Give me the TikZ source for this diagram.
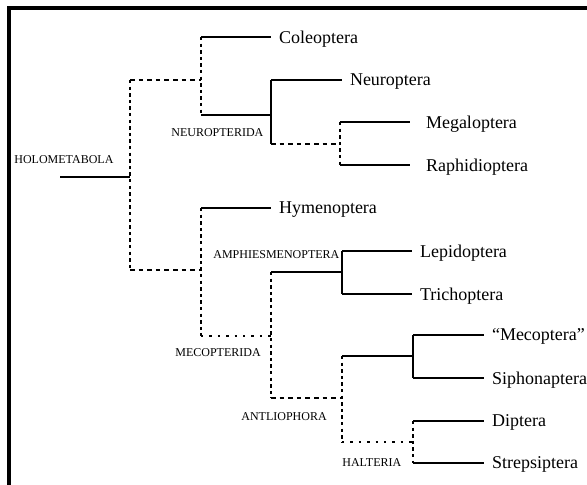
\documentclass[tikz,border=0pt]{standalone}
\usepackage{fontspec}
\setmainfont{Liberation Serif}
\tikzset{
  taxon/.style={anchor=west, inner sep=3.8pt, text depth=0pt, font=\fontsize{9}{10}\selectfont},
  clade/.style={anchor=west, inner sep=0pt, font=\fontsize{6}{7}\selectfont},
  branch/.style={line width=1.3pt},
  dashbranch/.style={line width=1.3pt, dash pattern=on 2.3pt off 2pt},
  vdashbranch/.style={line width=1.3pt, dash pattern=on 1.7pt off 1.6pt},
  dotbranch/.style={line width=1.3pt, dash pattern=on 1.2pt off 3pt},
  frameline/.style={line width=1.6pt}
}
\begin{document}
\begin{tikzpicture}[x=0.5pt,y=-0.5pt]
\useasboundingbox (0,0) rectangle (587,485);
\draw[frameline] (9,490) -- (9,8) -- (595,8);
% taxa
\node[taxon] (cole) at (271,37) {Coleoptera};
\node[taxon] (neur) at (342,80) {Neuroptera};
\node[taxon] (mega) at (418,122) {Megaloptera};
\node[taxon] (raph) at (418,165) {Raphidioptera};
\node[taxon] (hyme) at (271,208) {Hymenoptera};
\node[taxon] (lepi) at (412,251) {Lepidoptera};
\node[taxon] (tric) at (412,294) {Trichoptera};
\node[taxon] (meco) at (484,335) {``Mecoptera''};
\node[taxon] (siph) at (484,378) {Siphonaptera};
\node[taxon] (dipt) at (484,421) {Diptera};
\node[taxon] (stre) at (484,463) {Strepsiptera};
% clade names
\node[clade] (holo) at (14,160) {HOLOMETABOLA};
\node[clade] (neurida) at (171,133) {NEUROPTERIDA};
\node[clade] (amph) at (213,255) {AMPHIESMENOPTERA};
\node[clade] (mecida) at (175,353) {MECOPTERIDA};
\node[clade] (antl) at (241,417) {ANTLIOPHORA};
\node[clade] (halt) at (342,463) {HALTERIA};
% junctions
\coordinate (r0) at (60,177);
\coordinate (r1) at (130,177);
\coordinate (a1) at (130,80);
\coordinate (a2) at (201,80);
\coordinate (b1) at (130,270);
\coordinate (b2) at (201,270);
\coordinate (c1) at (201,37);
\coordinate (c2) at (201,115);
\coordinate (c3) at (271,115);
\coordinate (d1) at (271,80);
\coordinate (d2) at (271,144);
\coordinate (d3) at (340,144);
\coordinate (e1) at (340,122);
\coordinate (e2) at (340,165);
\coordinate (f1) at (201,208);
\coordinate (f2) at (201,336);
\coordinate (f3) at (271,336);
\coordinate (g1) at (271,272);
\coordinate (g2) at (271,398);
\coordinate (g3) at (342,272);
\coordinate (g4) at (342,398);
\coordinate (h1) at (342,251);
\coordinate (h2) at (342,294);
\coordinate (i1) at (342,356);
\coordinate (i2) at (342,442);
\coordinate (i3) at (413,356);
\coordinate (i4) at (413,442);
\coordinate (k1) at (413,335);
\coordinate (k2) at (413,378);
\coordinate (m1) at (413,421);
\coordinate (m2) at (413,463);
% branches
\draw[branch] (r0) -- (r1);
\draw[vdashbranch] (a1) -- (b1);
\draw[dashbranch] (a1) -- (a2);
\draw[dashbranch] (b1) -- (b2);
\draw[vdashbranch] (c1) -- (c2);
\draw[branch] (c1) -- (cole.west);
\draw[branch] (c2) -- (c3);
\draw[branch] (d1) -- (d2);
\draw[branch] (d1) -- (neur.west);
\draw[dashbranch] (d2) -- (d3);
\draw[vdashbranch] (e1) -- (e2);
\draw[branch, shorten >=4pt] (e1) -- (mega.west);
\draw[branch, shorten >=4pt] (e2) -- (raph.west);
\draw[vdashbranch] (f1) -- (f2);
\draw[branch] (f1) -- (hyme.west);
\draw[dotbranch] (f2) -- (f3);
\draw[vdashbranch] (g1) -- (g2);
\draw[branch] (g1) -- (g3);
\draw[dashbranch] (g2) -- (g4);
\draw[branch] (h1) -- (h2);
\draw[branch] (h1) -- (lepi.west);
\draw[branch] (h2) -- (tric.west);
\draw[vdashbranch] (i1) -- (i2);
\draw[branch] (i1) -- (i3);
\draw[dotbranch] (i2) -- (i4);
\draw[branch] (k1) -- (k2);
\draw[branch] (k1) -- (meco.west);
\draw[branch] (k2) -- (siph.west);
\draw[vdashbranch] (m1) -- (m2);
\draw[branch] (m1) -- (dipt.west);
\draw[branch] (m2) -- (stre.west);
\end{tikzpicture}
\end{document}
